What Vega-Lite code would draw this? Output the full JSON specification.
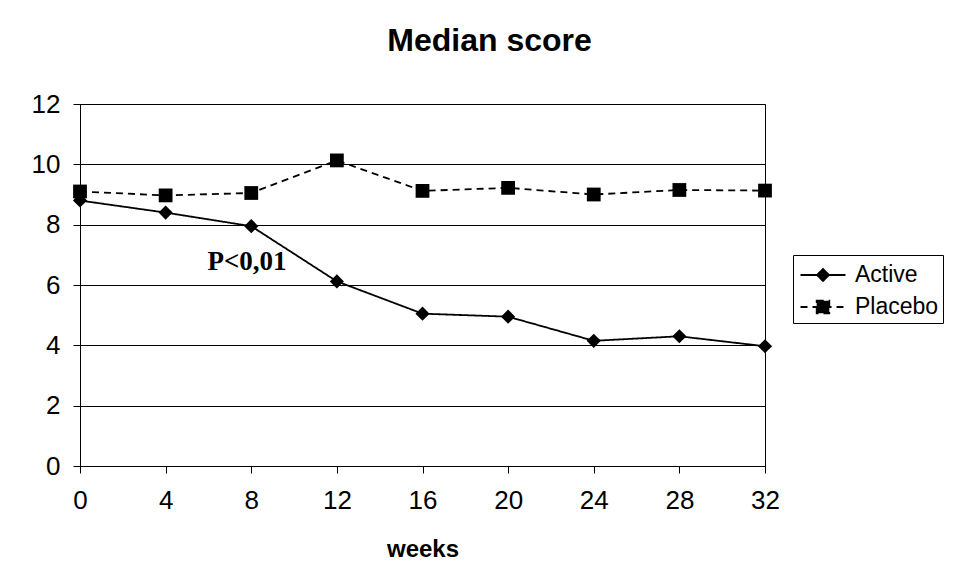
{
  "$schema": "https://vega.github.io/schema/vega-lite/v6.json",
  "width": 685,
  "height": 362,
  "autosize": "none",
  "padding": {"left": 80, "top": 104, "right": 196, "bottom": 108},
  "background": "white",
  "title": {
    "text": "Median score",
    "font": "Liberation Sans",
    "fontSize": 32,
    "fontWeight": "bold",
    "color": "black",
    "anchor": "middle",
    "dx": 67,
    "baseline": "alphabetic",
    "offset": 8
  },
  "config": {
    "view": {"stroke": "black", "strokeWidth": 1},
    "axis": {
      "labelFont": "Liberation Sans",
      "labelFontSize": 26,
      "labelColor": "black",
      "titleFont": "Liberation Sans",
      "titleColor": "black",
      "domainColor": "black",
      "tickColor": "black",
      "gridColor": "black",
      "gridOpacity": 1,
      "gridWidth": 1
    },
    "legend": {
      "labelFont": "Liberation Sans",
      "labelFontSize": 23,
      "labelColor": "black"
    }
  },
  "datasets": {
    "scores": [
      {"week": 0, "score": 8.8, "series": "Active"},
      {"week": 4, "score": 8.4, "series": "Active"},
      {"week": 8, "score": 7.95, "series": "Active"},
      {"week": 12, "score": 6.12, "series": "Active"},
      {"week": 16, "score": 5.05, "series": "Active"},
      {"week": 20, "score": 4.95, "series": "Active"},
      {"week": 24, "score": 4.15, "series": "Active"},
      {"week": 28, "score": 4.3, "series": "Active"},
      {"week": 32, "score": 3.97, "series": "Active"},
      {"week": 0, "score": 9.1, "series": "Placebo"},
      {"week": 4, "score": 8.97, "series": "Placebo"},
      {"week": 8, "score": 9.05, "series": "Placebo"},
      {"week": 12, "score": 10.13, "series": "Placebo"},
      {"week": 16, "score": 9.12, "series": "Placebo"},
      {"week": 20, "score": 9.22, "series": "Placebo"},
      {"week": 24, "score": 9.0, "series": "Placebo"},
      {"week": 28, "score": 9.15, "series": "Placebo"},
      {"week": 32, "score": 9.13, "series": "Placebo"}
    ],
    "notes": [
      {"week": 7.8, "score": 6.75, "label": "P<0,01"}
    ]
  },
  "layer": [
    {
      "data": {"name": "scores"},
      "mark": {"type": "line", "color": "black", "strokeWidth": 1.8},
      "encoding": {
        "x": {
          "field": "week", "type": "quantitative",
          "scale": {"domain": [0, 32], "nice": false, "zero": false},
          "axis": {
            "values": [0, 4, 8, 12, 16, 20, 24, 28, 32],
            "title": "weeks",
            "titleFontSize": 24,
            "titleFontWeight": "bold",
            "titlePadding": 24,
            "grid": false,
            "tickSize": 7,
            "labelPadding": 14,
            "labelFlush": false
          }
        },
        "y": {
          "field": "score", "type": "quantitative",
          "scale": {"domain": [0, 12], "nice": false},
          "axis": {
            "values": [0, 2, 4, 6, 8, 10, 12],
            "title": null,
            "grid": true,
            "tickSize": 7,
            "labelPadding": 13,
            "labelFlush": false
          }
        },
        "detail": {"field": "series"},
        "strokeDash": {
          "field": "series", "type": "nominal",
          "scale": {"domain": ["Active", "Placebo"], "range": [[1, 0], [7, 5]]},
          "legend": {
            "title": null,
            "orient": "none",
            "legendX": 713,
            "legendY": 151,
            "strokeColor": "black",
            "fillColor": "white",
            "padding": 4,
            "symbolSize": 900,
            "symbolOffset": 10,
            "symbolStrokeWidth": 1.8,
            "symbolStrokeColor": "black",
            "symbolFillColor": "black",
            "rowPadding": 4,
            "labelOffset": 16,
            "encode": {
              "symbols": {
                "update": {
                  "fill": {"value": "black"},
                  "stroke": {"value": "black"},
                  "strokeWidth": {"value": 1.8},
                  "shape": {"signal": "datum.value === 'Active' ? 'M-1.5,0L1.5,0M0,-0.4L0.4,0L0,0.4L-0.4,0Z' : 'M-1.5,0L1.5,0M-0.42,-0.42L0.42,-0.42L0.42,0.42L-0.42,0.42Z'"}
                }
              }
            }
          }
        }
      }
    },
    {
      "data": {"name": "scores"},
      "transform": [{"filter": "datum.series === 'Active'"}],
      "mark": {"type": "point", "filled": true, "color": "black", "opacity": 1, "shape": "diamond", "size": 200},
      "encoding": {
        "x": {"field": "week", "type": "quantitative"},
        "y": {"field": "score", "type": "quantitative"}
      }
    },
    {
      "data": {"name": "scores"},
      "transform": [{"filter": "datum.series === 'Placebo'"}],
      "mark": {"type": "point", "filled": true, "color": "black", "opacity": 1, "shape": "square", "size": 190},
      "encoding": {
        "x": {"field": "week", "type": "quantitative"},
        "y": {"field": "score", "type": "quantitative"}
      }
    },
    {
      "data": {"name": "notes"},
      "mark": {"type": "text", "font": "Liberation Serif", "fontSize": 27, "fontWeight": "bold", "color": "black"},
      "encoding": {
        "x": {"field": "week", "type": "quantitative"},
        "y": {"field": "score", "type": "quantitative"},
        "text": {"field": "label"}
      }
    }
  ]
}
